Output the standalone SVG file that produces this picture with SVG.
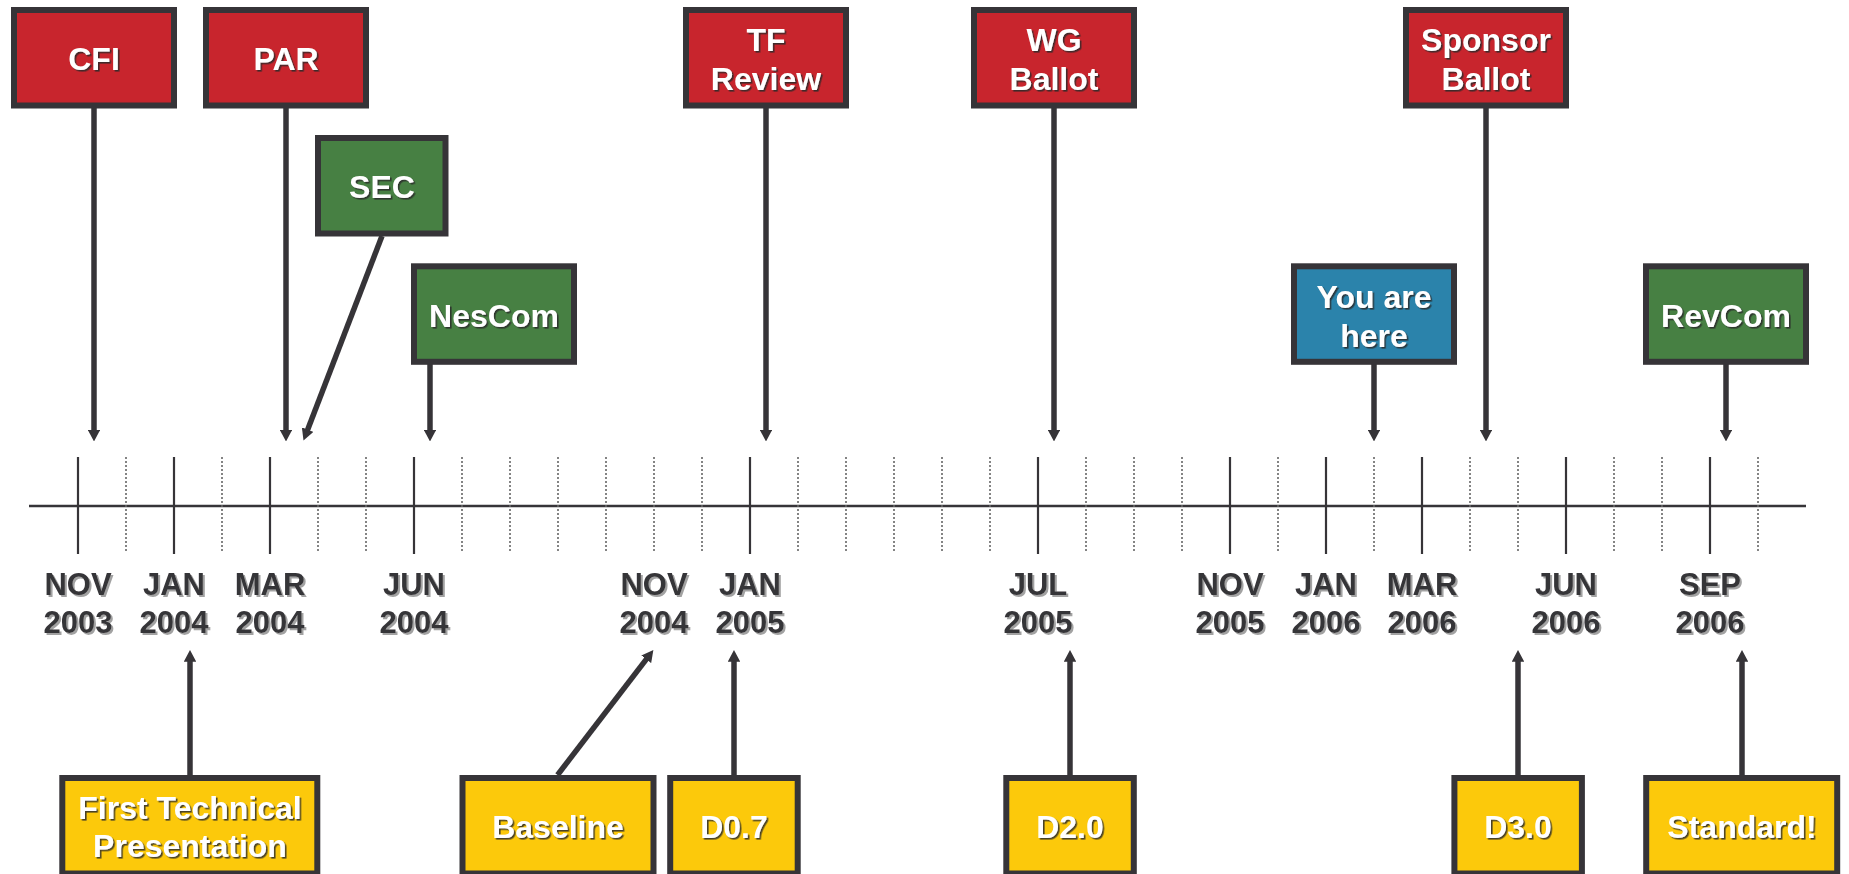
<svg xmlns="http://www.w3.org/2000/svg" width="1849" height="874" viewBox="0 0 1849 874">
<defs>
<style>
.box{stroke:#363438;stroke-width:6}
.red{fill:#C8252D}
.green{fill:#478043}
.blue{fill:#2B83AB}
.yellow{fill:#FCC90B}
.bt{font-family:"Liberation Sans",Arial,Helvetica,sans-serif;font-weight:bold;font-size:32px;fill:#FFFFFF;text-anchor:middle;filter:url(#ds)}
.dl{font-family:"Liberation Sans",Arial,Helvetica,sans-serif;font-weight:bold;font-size:31px;fill:#363438;text-anchor:middle;filter:url(#ls)}
.con{stroke:#363438;stroke-width:5.5;fill:none;marker-end:url(#ah)}
.axis{stroke:#363438;stroke-width:2.4}
.maj{stroke:#363438;stroke-width:2.2}
.min{stroke:#666666;stroke-width:1.6;stroke-dasharray:2 2}
</style>
<filter id="ds" x="-10%" y="-20%" width="130%" height="150%">
<feDropShadow dx="1.6" dy="1.6" stdDeviation="0.5" flood-color="#2a2a2a" flood-opacity="0.85"/>
</filter>
<filter id="ls" x="-10%" y="-20%" width="130%" height="150%">
<feDropShadow dx="2" dy="2" stdDeviation="0.6" flood-color="#8a8a8a" flood-opacity="0.8"/>
</filter>
<marker id="ah" viewBox="0 0 11.7 12.4" markerWidth="11.7" markerHeight="12.4" refX="4.7" refY="6.2" orient="auto" markerUnits="userSpaceOnUse">
<path d="M0,0 L11.7,6.2 L0,12.4 Z" fill="#363438"/>
</marker>
</defs>
<rect x="0" y="0" width="1849" height="874" fill="#FFFFFF"/>

<g id="timeline">
<line class="axis" x1="29" y1="506" x2="1806" y2="506"/>
<g id="major-ticks">
<line class="maj" x1="78" y1="457" x2="78" y2="554"/>
<line class="maj" x1="174" y1="457" x2="174" y2="554"/>
<line class="maj" x1="270" y1="457" x2="270" y2="554"/>
<line class="maj" x1="414" y1="457" x2="414" y2="554"/>
<line class="maj" x1="750" y1="457" x2="750" y2="554"/>
<line class="maj" x1="1038" y1="457" x2="1038" y2="554"/>
<line class="maj" x1="1230" y1="457" x2="1230" y2="554"/>
<line class="maj" x1="1326" y1="457" x2="1326" y2="554"/>
<line class="maj" x1="1422" y1="457" x2="1422" y2="554"/>
<line class="maj" x1="1566" y1="457" x2="1566" y2="554"/>
<line class="maj" x1="1710" y1="457" x2="1710" y2="554"/>
</g>
<g id="minor-ticks">
<line class="min" x1="126" y1="457" x2="126" y2="551"/>
<line class="min" x1="222" y1="457" x2="222" y2="551"/>
<line class="min" x1="318" y1="457" x2="318" y2="551"/>
<line class="min" x1="366" y1="457" x2="366" y2="551"/>
<line class="min" x1="462" y1="457" x2="462" y2="551"/>
<line class="min" x1="510" y1="457" x2="510" y2="551"/>
<line class="min" x1="558" y1="457" x2="558" y2="551"/>
<line class="min" x1="606" y1="457" x2="606" y2="551"/>
<line class="min" x1="654" y1="457" x2="654" y2="551"/>
<line class="min" x1="702" y1="457" x2="702" y2="551"/>
<line class="min" x1="798" y1="457" x2="798" y2="551"/>
<line class="min" x1="846" y1="457" x2="846" y2="551"/>
<line class="min" x1="894" y1="457" x2="894" y2="551"/>
<line class="min" x1="942" y1="457" x2="942" y2="551"/>
<line class="min" x1="990" y1="457" x2="990" y2="551"/>
<line class="min" x1="1086" y1="457" x2="1086" y2="551"/>
<line class="min" x1="1134" y1="457" x2="1134" y2="551"/>
<line class="min" x1="1182" y1="457" x2="1182" y2="551"/>
<line class="min" x1="1278" y1="457" x2="1278" y2="551"/>
<line class="min" x1="1374" y1="457" x2="1374" y2="551"/>
<line class="min" x1="1470" y1="457" x2="1470" y2="551"/>
<line class="min" x1="1518" y1="457" x2="1518" y2="551"/>
<line class="min" x1="1614" y1="457" x2="1614" y2="551"/>
<line class="min" x1="1662" y1="457" x2="1662" y2="551"/>
<line class="min" x1="1758" y1="457" x2="1758" y2="551"/>
</g>
<g id="date-labels">
<text class="dl" x="78" y="595">NOV</text><text class="dl" x="78" y="633">2003</text>
<text class="dl" x="174" y="595">JAN</text><text class="dl" x="174" y="633">2004</text>
<text class="dl" x="270" y="595">MAR</text><text class="dl" x="270" y="633">2004</text>
<text class="dl" x="414" y="595">JUN</text><text class="dl" x="414" y="633">2004</text>
<text class="dl" x="654" y="595">NOV</text><text class="dl" x="654" y="633">2004</text>
<text class="dl" x="750" y="595">JAN</text><text class="dl" x="750" y="633">2005</text>
<text class="dl" x="1038" y="595">JUL</text><text class="dl" x="1038" y="633">2005</text>
<text class="dl" x="1230" y="595">NOV</text><text class="dl" x="1230" y="633">2005</text>
<text class="dl" x="1326" y="595">JAN</text><text class="dl" x="1326" y="633">2006</text>
<text class="dl" x="1422" y="595">MAR</text><text class="dl" x="1422" y="633">2006</text>
<text class="dl" x="1566" y="595">JUN</text><text class="dl" x="1566" y="633">2006</text>
<text class="dl" x="1710" y="595">SEP</text><text class="dl" x="1710" y="633">2006</text>
</g>
</g>

<g id="connectors">
<line class="con" x1="94" y1="108" x2="94" y2="434.5"/>
<line class="con" x1="286" y1="108" x2="286" y2="434.5"/>
<line class="con" x1="382" y1="236" x2="306" y2="434"/>
<line class="con" x1="430" y1="364" x2="430" y2="434.5"/>
<line class="con" x1="766" y1="108" x2="766" y2="434.5"/>
<line class="con" x1="1054" y1="108" x2="1054" y2="434.5"/>
<line class="con" x1="1374" y1="364" x2="1374" y2="434.5"/>
<line class="con" x1="1486" y1="108" x2="1486" y2="434.5"/>
<line class="con" x1="1726" y1="364" x2="1726" y2="434.5"/>
<line class="con" x1="190" y1="775" x2="190" y2="657"/>
<line class="con" x1="557.5" y1="775" x2="649.1" y2="655.6"/>
<line class="con" x1="734" y1="775" x2="734" y2="657"/>
<line class="con" x1="1070" y1="775" x2="1070" y2="657"/>
<line class="con" x1="1518" y1="775" x2="1518" y2="657"/>
<line class="con" x1="1742" y1="775" x2="1742" y2="657"/>
</g>

<g id="cfi"><rect class="box red" x="14" y="10" width="160" height="95.5"/><text class="bt" x="94" y="70">CFI</text></g>
<g id="par"><rect class="box red" x="206" y="10" width="160" height="95.5"/><text class="bt" x="286" y="70">PAR</text></g>
<g id="tf-review"><rect class="box red" x="686" y="10" width="160" height="95.5"/><text class="bt" x="766" y="51">TF</text><text class="bt" x="766" y="89.5">Review</text></g>
<g id="wg-ballot"><rect class="box red" x="974" y="10" width="160" height="95.5"/><text class="bt" x="1054" y="51">WG</text><text class="bt" x="1054" y="89.5">Ballot</text></g>
<g id="sponsor-ballot"><rect class="box red" x="1406" y="10" width="160" height="95.5"/><text class="bt" x="1486" y="51">Sponsor</text><text class="bt" x="1486" y="89.5">Ballot</text></g>
<g id="sec"><rect class="box green" x="318" y="138" width="127.5" height="95.5"/><text class="bt" x="382" y="198">SEC</text></g>
<g id="nescom"><rect class="box green" x="414" y="266.3" width="160" height="95.5"/><text class="bt" x="494" y="327">NesCom</text></g>
<g id="you-are-here"><rect class="box blue" x="1294" y="266.3" width="160" height="95.5"/><text class="bt" x="1374" y="308">You are</text><text class="bt" x="1374" y="346.5">here</text></g>
<g id="revcom"><rect class="box green" x="1646" y="266.3" width="160" height="95.5"/><text class="bt" x="1726" y="327">RevCom</text></g>
<g id="first-technical-presentation"><rect class="box yellow" x="62.3" y="778" width="255" height="95.5"/><text class="bt" x="190" y="818.5">First Technical</text><text class="bt" x="190" y="857">Presentation</text></g>
<g id="baseline"><rect class="box yellow" x="462.5" y="778" width="191" height="95.5"/><text class="bt" x="558" y="837.5">Baseline</text></g>
<g id="d07"><rect class="box yellow" x="670.2" y="778" width="127.5" height="95.5"/><text class="bt" x="734" y="837.5">D0.7</text></g>
<g id="d20"><rect class="box yellow" x="1006.3" y="778" width="127.5" height="95.5"/><text class="bt" x="1070" y="837.5">D2.0</text></g>
<g id="d30"><rect class="box yellow" x="1454.4" y="778" width="127.5" height="95.5"/><text class="bt" x="1518" y="837.5">D3.0</text></g>
<g id="standard"><rect class="box yellow" x="1646.2" y="778" width="191" height="95.5"/><text class="bt" x="1742" y="837.5">Standard!</text></g>
</svg>
